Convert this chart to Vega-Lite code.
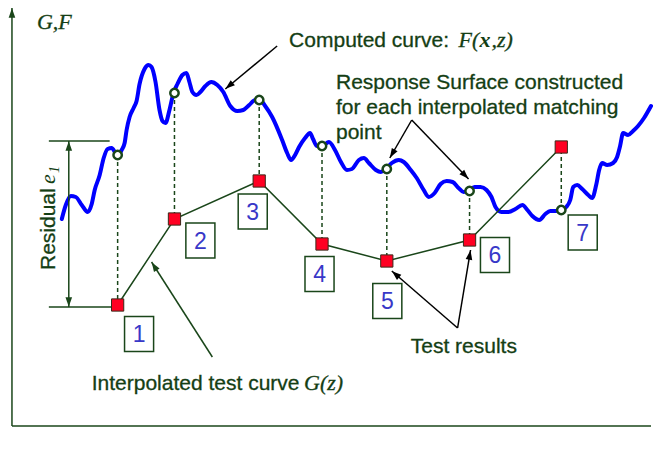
{
  "$schema": "https://vega.github.io/schema/vega-lite/v6.json",
  "width": 653,
  "height": 449,
  "autosize": {"type": "fit", "contains": "padding"},
  "padding": 0,
  "background": "white",
  "config": {"view": {"stroke": null}},
  "datasets": {
    "curve": [
      {"x":62,"y":219},{"x":66,"y":205},{"x":71,"y":196},{"x":76,"y":197},{"x":82,"y":205},{"x":88,"y":212},{"x":92,"y":204},{"x":95,"y":190},{"x":100,"y":175},{"x":104,"y":158},{"x":108,"y":149},{"x":112,"y":148},{"x":116,"y":153},{"x":119,"y":155},{"x":122,"y":150},{"x":125,"y":143},{"x":127,"y":130},{"x":130,"y":117},{"x":134,"y":108},{"x":137,"y":101},{"x":140,"y":84},{"x":145,"y":69},{"x":149,"y":65},{"x":152,"y":67},{"x":156,"y":82},{"x":160,"y":110},{"x":163,"y":121},{"x":166,"y":123},{"x":170,"y":110},{"x":174,"y":93},{"x":178,"y":84},{"x":183,"y":75},{"x":187,"y":73},{"x":190,"y":82},{"x":193,"y":92},{"x":197,"y":95},{"x":201,"y":92},{"x":206,"y":86},{"x":212,"y":82},{"x":218,"y":85},{"x":224,"y":92},{"x":231,"y":106},{"x":238,"y":111},{"x":244,"y":110},{"x":250,"y":105},{"x":256,"y":100},{"x":261,"y":100},{"x":266,"y":106},{"x":273,"y":117},{"x":283,"y":140},{"x":288,"y":153},{"x":292,"y":160},{"x":296,"y":155},{"x":300,"y":147},{"x":306,"y":138},{"x":311,"y":133},{"x":314,"y":139},{"x":318,"y":146},{"x":323,"y":146},{"x":330,"y":142},{"x":336,"y":150},{"x":342,"y":162},{"x":348,"y":170},{"x":353,"y":169},{"x":360,"y":160},{"x":365,"y":158},{"x":370,"y":163},{"x":377,"y":170},{"x":382,"y":172},{"x":387,"y":169},{"x":393,"y":163},{"x":400,"y":160},{"x":405,"y":162},{"x":412,"y":170},{"x":418,"y":178},{"x":425,"y":190},{"x":430,"y":197},{"x":436,"y":193},{"x":442,"y":184},{"x":448,"y":181},{"x":454,"y":182},{"x":460,"y":188},{"x":465,"y":192},{"x":470,"y":191},{"x":476,"y":187},{"x":482,"y":187},{"x":488,"y":190},{"x":493,"y":197},{"x":497,"y":207},{"x":503,"y":212},{"x":510,"y":212},{"x":517,"y":209},{"x":524,"y":205},{"x":529,"y":210},{"x":534,"y":216},{"x":541,"y":220},{"x":547,"y":214},{"x":552,"y":211},{"x":557,"y":211},{"x":563,"y":210},{"x":568,"y":207},{"x":572,"y":200},{"x":575,"y":187},{"x":579,"y":185},{"x":584,"y":189},{"x":590,"y":195},{"x":594,"y":198},{"x":598,"y":185},{"x":601,"y":170},{"x":604,"y":163},{"x":609,"y":165},{"x":615,"y":163},{"x":619,"y":157},{"x":622,"y":146},{"x":625,"y":133},{"x":630,"y":135},{"x":635,"y":131},{"x":640,"y":126},{"x":646,"y":118},{"x":653,"y":106}
    ],
    "pts": [
      {"n":1,"x":118,"f":155,"g":305},
      {"n":2,"x":175,"f":93,"g":219},
      {"n":3,"x":260,"f":100,"g":181},
      {"n":4,"x":323,"f":146,"g":244},
      {"n":5,"x":388,"f":169,"g":261},
      {"n":6,"x":471,"f":191,"g":240},
      {"n":7,"x":563,"f":210,"g":147}
    ],
    "boxes": [
      {"label":"1","x":139.5,"y":334},
      {"label":"2","x":201,"y":240.5},
      {"label":"3","x":253.5,"y":211.5},
      {"label":"4","x":320.5,"y":274},
      {"label":"5","x":388.5,"y":301},
      {"label":"6","x":496.5,"y":255},
      {"label":"7","x":584.5,"y":232.5}
    ],
    "segments": [
      {"x":12,"y":426,"x2":653,"y2":426},
      {"x":49,"y":141,"x2":110,"y2":141},
      {"x":49,"y":307,"x2":113,"y2":307}
    ],
    "arrows": [
      {"kind":"callout","x1":278,"y1":46,"x2":226,"y2":89},
      {"kind":"callout","x1":413,"y1":120,"x2":391,"y2":158},
      {"kind":"callout","x1":413,"y1":120,"x2":470,"y2":179},
      {"kind":"callout","x1":459,"y1":328,"x2":393,"y2":271},
      {"kind":"callout","x1":459,"y1":328,"x2":472,"y2":250},
      {"kind":"guide","x1":213,"y1":357,"x2":152,"y2":262},
      {"kind":"guide","x1":69,"y1":224,"x2":69,"y2":141},
      {"kind":"guide","x1":69,"y1":224,"x2":69,"y2":307},
      {"kind":"guide","x1":12,"y1":426,"x2":12,"y2":8}
    ],
    "sans": [
      {"t":"Computed curve:","x":290,"y":47},
      {"t":"Response Surface constructed","x":337,"y":89},
      {"t":"for each interpolated matching","x":337,"y":114},
      {"t":"point","x":337,"y":139},
      {"t":"Test results","x":412,"y":353},
      {"t":"Interpolated test curve","x":92,"y":390}
    ],
    "serif": [
      {"t":"G,F","x":37,"y":29},
      {"t":"F(","x":460,"y":47},
      {"t":",z)","x":493,"y":47},
      {"t":"G(z)","x":305,"y":390}
    ],
    "serifBold": [
      {"t":"x","x":481,"y":47}
    ],
    "residual": [
      {"t":"Residual","x":55,"y":270}
    ],
    "residualE": [
      {"t":"e","x":55,"y":184}
    ],
    "residualSub": [
      {"t":"1","x":59,"y":173}
    ]
  },
  "layer": [
    {
      "data": {"name": "segments"},
      "mark": {"type": "rule", "color": "#1a461a", "strokeWidth": 1.5},
      "encoding": {
        "x": {"field":"x","type":"quantitative","scale":{"domain":[0,653],"nice":false,"zero":false},"axis":null},
        "y": {"field":"y","type":"quantitative","scale":{"domain":[0,449],"nice":false,"zero":false,"reverse":true},"axis":null},
        "x2": {"field":"x2"},
        "y2": {"field":"y2"}
      }
    },
    {
      "data": {"name": "curve"},
      "mark": {"type": "line", "color": "#0000ff", "strokeWidth": 4, "interpolate": "monotone", "strokeCap": "round", "strokeJoin": "round"},
      "encoding": {
        "x": {"field":"x","type":"quantitative","scale":{"domain":[0,653],"nice":false,"zero":false},"axis":null},
        "y": {"field":"y","type":"quantitative","scale":{"domain":[0,449],"nice":false,"zero":false,"reverse":true},"axis":null}
      }
    },
    {
      "data": {"name": "pts"},
      "mark": {"type": "rule", "color": "#1a461a", "strokeWidth": 1.5, "strokeDash": [4,3]},
      "encoding": {
        "x": {"field":"x","type":"quantitative","scale":{"domain":[0,653],"nice":false,"zero":false},"axis":null},
        "y": {"field":"f","type":"quantitative","scale":{"domain":[0,449],"nice":false,"zero":false,"reverse":true},"axis":null},
        "y2": {"field":"g"}
      }
    },
    {
      "data": {"name": "pts"},
      "mark": {"type": "line", "color": "#1a461a", "strokeWidth": 1.5},
      "encoding": {
        "x": {"field":"x","type":"quantitative","scale":{"domain":[0,653],"nice":false,"zero":false},"axis":null},
        "y": {"field":"g","type":"quantitative","scale":{"domain":[0,449],"nice":false,"zero":false,"reverse":true},"axis":null},
        "order": {"field":"n"}
      }
    },
    {
      "data": {"name": "arrows"},
      "mark": {"type": "rule", "strokeWidth": 1.5},
      "encoding": {
        "x": {"field":"x1","type":"quantitative","scale":{"domain":[0,653],"nice":false,"zero":false},"axis":null},
        "y": {"field":"y1","type":"quantitative","scale":{"domain":[0,449],"nice":false,"zero":false,"reverse":true},"axis":null},
        "x2": {"field":"x2"},
        "y2": {"field":"y2"},
        "color": {"field":"kind","type":"nominal","scale":{"domain":["callout","guide"],"range":["#000000","#1a461a"]},"legend":null}
      }
    },
    {
      "data": {"name": "arrows"},
      "transform": [
        {"calculate": "sqrt(pow(datum.x2-datum.x1,2)+pow(datum.y2-datum.y1,2))", "as": "len"},
        {"calculate": "datum.x2 - 5*(datum.x2-datum.x1)/datum.len", "as": "hx"},
        {"calculate": "datum.y2 - 5*(datum.y2-datum.y1)/datum.len", "as": "hy"},
        {"calculate": "atan2(datum.x2-datum.x1, datum.y1-datum.y2)*180/PI", "as": "ang"}
      ],
      "mark": {"type": "point", "shape": "M0,-1L0.7,1L-0.7,1Z", "filled": true, "opacity": 1, "size": 90},
      "encoding": {
        "x": {"field":"hx","type":"quantitative","scale":{"domain":[0,653],"nice":false,"zero":false},"axis":null},
        "y": {"field":"hy","type":"quantitative","scale":{"domain":[0,449],"nice":false,"zero":false,"reverse":true},"axis":null},
        "angle": {"field":"ang","type":"quantitative","scale":null},
        "color": {"field":"kind","type":"nominal","scale":{"domain":["callout","guide"],"range":["#000000","#1a461a"]},"legend":null}
      }
    },
    {
      "data": {"name": "pts"},
      "mark": {"type": "point", "shape": "circle", "filled": true, "fill": "white", "stroke": "#1a461a", "strokeWidth": 2.5, "size": 70, "opacity": 1},
      "encoding": {
        "x": {"field":"x","type":"quantitative","scale":{"domain":[0,653],"nice":false,"zero":false},"axis":null},
        "y": {"field":"f","type":"quantitative","scale":{"domain":[0,449],"nice":false,"zero":false,"reverse":true},"axis":null}
      }
    },
    {
      "data": {"name": "pts"},
      "mark": {"type": "point", "shape": "square", "filled": true, "fill": "#ff0022", "stroke": "#3a2a1a", "strokeWidth": 1, "size": 150, "opacity": 1},
      "encoding": {
        "x": {"field":"x","type":"quantitative","scale":{"domain":[0,653],"nice":false,"zero":false},"axis":null},
        "y": {"field":"g","type":"quantitative","scale":{"domain":[0,449],"nice":false,"zero":false,"reverse":true},"axis":null}
      }
    },
    {
      "data": {"name": "boxes"},
      "mark": {"type": "point", "shape": "M-0.83,-1H0.83V1H-0.83Z", "filled": true, "fill": "white", "stroke": "#1a461a", "strokeWidth": 1.5, "size": 1225, "opacity": 1},
      "encoding": {
        "x": {"field":"x","type":"quantitative","scale":{"domain":[0,653],"nice":false,"zero":false},"axis":null},
        "y": {"field":"y","type":"quantitative","scale":{"domain":[0,449],"nice":false,"zero":false,"reverse":true},"axis":null}
      }
    },
    {
      "data": {"name": "boxes"},
      "mark": {"type": "text", "font": "Liberation Sans", "fontSize": 23, "color": "#3838c8", "align": "center", "baseline": "middle", "dy": 1},
      "encoding": {
        "x": {"field":"x","type":"quantitative","scale":{"domain":[0,653],"nice":false,"zero":false},"axis":null},
        "y": {"field":"y","type":"quantitative","scale":{"domain":[0,449],"nice":false,"zero":false,"reverse":true},"axis":null},
        "text": {"field":"label"}
      }
    },
    {
      "data": {"name": "sans"},
      "mark": {"type": "text", "font": "Liberation Sans", "fontSize": 21, "color": "#143e14", "align": "left", "baseline": "alphabetic", "stroke": "#143e14", "strokeWidth": 0.3},
      "encoding": {
        "x": {"field":"x","type":"quantitative","scale":{"domain":[0,653],"nice":false,"zero":false},"axis":null},
        "y": {"field":"y","type":"quantitative","scale":{"domain":[0,449],"nice":false,"zero":false,"reverse":true},"axis":null},
        "text": {"field":"t"}
      }
    },
    {
      "data": {"name": "serif"},
      "mark": {"type": "text", "font": "Liberation Serif", "fontSize": 22, "fontStyle": "italic", "color": "#143e14", "align": "left", "baseline": "alphabetic", "stroke": "#143e14", "strokeWidth": 0.3},
      "encoding": {
        "x": {"field":"x","type":"quantitative","scale":{"domain":[0,653],"nice":false,"zero":false},"axis":null},
        "y": {"field":"y","type":"quantitative","scale":{"domain":[0,449],"nice":false,"zero":false,"reverse":true},"axis":null},
        "text": {"field":"t"}
      }
    },
    {
      "data": {"name": "serifBold"},
      "mark": {"type": "text", "font": "Liberation Serif", "fontSize": 22, "fontStyle": "italic", "fontWeight": "bold", "color": "#143e14", "align": "left", "baseline": "alphabetic"},
      "encoding": {
        "x": {"field":"x","type":"quantitative","scale":{"domain":[0,653],"nice":false,"zero":false},"axis":null},
        "y": {"field":"y","type":"quantitative","scale":{"domain":[0,449],"nice":false,"zero":false,"reverse":true},"axis":null},
        "text": {"field":"t"}
      }
    },
    {
      "data": {"name": "residual"},
      "mark": {"type": "text", "font": "Liberation Sans", "fontSize": 21, "color": "#143e14", "align": "left", "baseline": "alphabetic", "angle": 270, "stroke": "#143e14", "strokeWidth": 0.3},
      "encoding": {
        "x": {"field":"x","type":"quantitative","scale":{"domain":[0,653],"nice":false,"zero":false},"axis":null},
        "y": {"field":"y","type":"quantitative","scale":{"domain":[0,449],"nice":false,"zero":false,"reverse":true},"axis":null},
        "text": {"field":"t"}
      }
    },
    {
      "data": {"name": "residualE"},
      "mark": {"type": "text", "font": "Liberation Serif", "fontSize": 22, "fontStyle": "italic", "color": "#143e14", "align": "left", "baseline": "alphabetic", "angle": 270},
      "encoding": {
        "x": {"field":"x","type":"quantitative","scale":{"domain":[0,653],"nice":false,"zero":false},"axis":null},
        "y": {"field":"y","type":"quantitative","scale":{"domain":[0,449],"nice":false,"zero":false,"reverse":true},"axis":null},
        "text": {"field":"t"}
      }
    },
    {
      "data": {"name": "residualSub"},
      "mark": {"type": "text", "font": "Liberation Serif", "fontSize": 14, "fontStyle": "italic", "color": "#143e14", "align": "left", "baseline": "alphabetic", "angle": 270},
      "encoding": {
        "x": {"field":"x","type":"quantitative","scale":{"domain":[0,653],"nice":false,"zero":false},"axis":null},
        "y": {"field":"y","type":"quantitative","scale":{"domain":[0,449],"nice":false,"zero":false,"reverse":true},"axis":null},
        "text": {"field":"t"}
      }
    }
  ]
}
